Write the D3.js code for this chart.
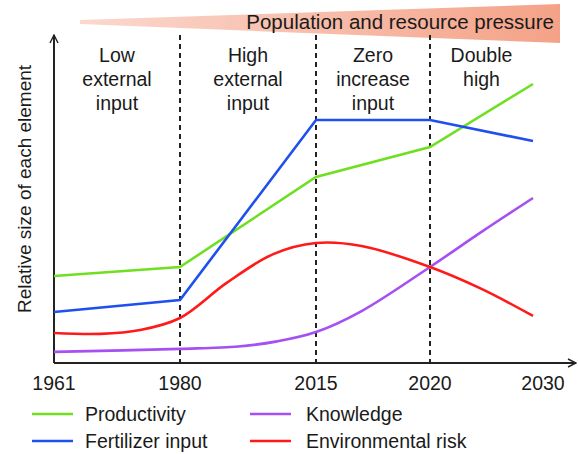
<!DOCTYPE html>
<html>
<head>
<meta charset="utf-8">
<script src="https://cdn.jsdelivr.net/npm/d3@7"></script>
<style>
  body { margin: 0; background: #fff; }
  text { font-family: "Liberation Sans", Arial, sans-serif; fill: #1a1a1a; }
</style>
</head>
<body>
<div id="chart"></div>
<script>
// Stage years on the x axis (not evenly spaced in time)
const years = [1961, 1980, 2015, 2020, 2030];
const tickLabels = ["1961", "1980", "2015", "2020", "2030"];

// Straight series, one value per stage year
const productivity = [29, 32, 62, 72, 93];
const fertilizer = [17, 21, 81, 81, 74];

// Curved series, read at more years
const riskYears = [1961, 1968, 1974, 1980, 1992, 2004, 2015, 2017, 2020, 2025, 2030];
const risk = [10, 9.7, 11, 15, 26.7, 36.3, 40, 39, 32, 24.7, 15.7];
const knowledgeYears = [1961, 1980, 1995, 2005, 2015, 2017, 2020, 2025, 2030];
const knowledge = [3.7, 4.7, 5.5, 7.2, 10.3, 17.3, 32, 43.7, 55];

// Phase boundaries and their labels
const boundaries = [1980, 2015, 2020];
const phaseLabels = [
  ["Low", "external", "input"],
  ["High", "external", "input"],
  ["Zero", "increase", "input"],
  ["Double", "high"]
];

const W = 578, H = 454;
const svg = d3
  .select("#chart")
  .append("svg")
  .attr("width", W)
  .attr("height", H);

// Piecewise x scale, one segment per stage
const x = d3.scaleLinear().domain(years).range([54, 180, 316, 430, 533]);
const y = d3.scaleLinear().domain([0, 100]).range([363, 63]);

const defs = svg.append("defs");
defs.append("marker")
  .attr("id", "arrow")
  .attr("viewBox", "0 0 10 10")
  .attr("refX", 9).attr("refY", 5)
  .attr("markerWidth", 5).attr("markerHeight", 5)
  .attr("markerUnits", "strokeWidth")
  .attr("orient", "auto")
  .append("path")
  .attr("d", "M1,1 L9,5 L1,9")
  .attr("fill", "none")
  .attr("stroke", "#222")
  .attr("stroke-width", 1.4);

const grad = defs.append("linearGradient").attr("id", "pressure");
grad.append("stop").attr("offset", "0%").attr("stop-color", "#fbd8ce");
grad.append("stop").attr("offset", "100%").attr("stop-color", "#f4a287");

// Population pressure wedge
svg.append("path")
  .attr("d", "M80,20 L560,4 L560,43 L80,24 Z")
  .attr("fill", "url(#pressure)");
svg.append("text")
  .attr("x", 554).attr("y", 29)
  .attr("text-anchor", "end")
  .attr("font-size", 20.5)
  .text("Population and resource pressure");

// Axes with arrow heads
svg.append("line")
  .attr("x1", x(1961)).attr("y1", y(0))
  .attr("x2", x(1961)).attr("y2", 35)
  .attr("stroke", "#222").attr("stroke-width", 2)
  .attr("marker-end", "url(#arrow)");
svg.append("line")
  .attr("x1", x(1961)).attr("y1", y(0))
  .attr("x2", 576).attr("y2", y(0))
  .attr("stroke", "#222").attr("stroke-width", 2)
  .attr("marker-end", "url(#arrow)");

svg.append("text")
  .attr("transform", "translate(31,189) rotate(-90)")
  .attr("text-anchor", "middle")
  .attr("font-size", 19)
  .text("Relative size of each element");

// Dashed phase boundaries
svg.selectAll(".bound")
  .data(boundaries)
  .enter()
  .append("line")
  .attr("class", "bound")
  .attr("x1", (d) => x(d)).attr("x2", (d) => x(d))
  .attr("y1", 35).attr("y2", y(0))
  .attr("stroke", "#222")
  .attr("stroke-width", 2)
  .attr("stroke-dasharray", "5,4");

// Phase labels centred between boundaries
const edges = [years[0], ...boundaries, years[years.length - 1]];
phaseLabels.forEach((lines, i) => {
  const cx = (x(edges[i]) + x(edges[i + 1])) / 2;
  const t = svg.append("text")
    .attr("text-anchor", "middle")
    .attr("font-size", 19.5);
  lines.forEach((s, j) => {
    t.append("tspan").attr("x", cx).attr("y", 62 + j * 24).text(s);
  });
});

// Year labels
svg.selectAll(".tick-label")
  .data(years)
  .enter()
  .append("text")
  .attr("class", "tick-label")
  .attr("x", (d, i) => x(d) + (i === years.length - 1 ? 10 : 0))
  .attr("y", 390)
  .attr("text-anchor", "middle")
  .attr("font-size", 19.5)
  .text((d, i) => tickLabels[i]);

// Series
const smooth = d3.curveCatmullRom.alpha(0.5);
const series = [
  { name: "Productivity", xs: years, ys: productivity, color: "#6fdf22", curve: d3.curveLinear },
  { name: "Fertilizer input", xs: years, ys: fertilizer, color: "#1f4fee", curve: d3.curveLinear },
  { name: "Knowledge", xs: knowledgeYears, ys: knowledge, color: "#a64ff2", curve: smooth },
  { name: "Environmental risk", xs: riskYears, ys: risk, color: "#ff1a1a", curve: smooth }
];

series.forEach((s) => {
  const line = d3.line()
    .x((d) => x(d[0]))
    .y((d) => y(d[1]))
    .curve(s.curve);
  svg.append("path")
    .datum(s.xs.map((v, i) => [v, s.ys[i]]))
    .attr("fill", "none")
    .attr("stroke", s.color)
    .attr("stroke-width", 2.6)
    .attr("d", line);
});

// Legend, two columns
const legend = svg.selectAll(".legend")
  .data(series)
  .enter()
  .append("g")
  .attr("class", "legend")
  .attr("transform", (d, i) => `translate(${i < 2 ? 32 : 250},${i % 2 === 0 ? 414 : 441})`);

legend.append("line")
  .attr("x1", 0).attr("x2", 41)
  .attr("stroke", (d) => d.color)
  .attr("stroke-width", 2.6);
legend.append("text")
  .attr("x", (d, i) => (i < 2 ? 53 : 56))
  .attr("y", 7)
  .attr("font-size", 19.5)
  .text((d) => d.name);
</script>
</body>
</html>
